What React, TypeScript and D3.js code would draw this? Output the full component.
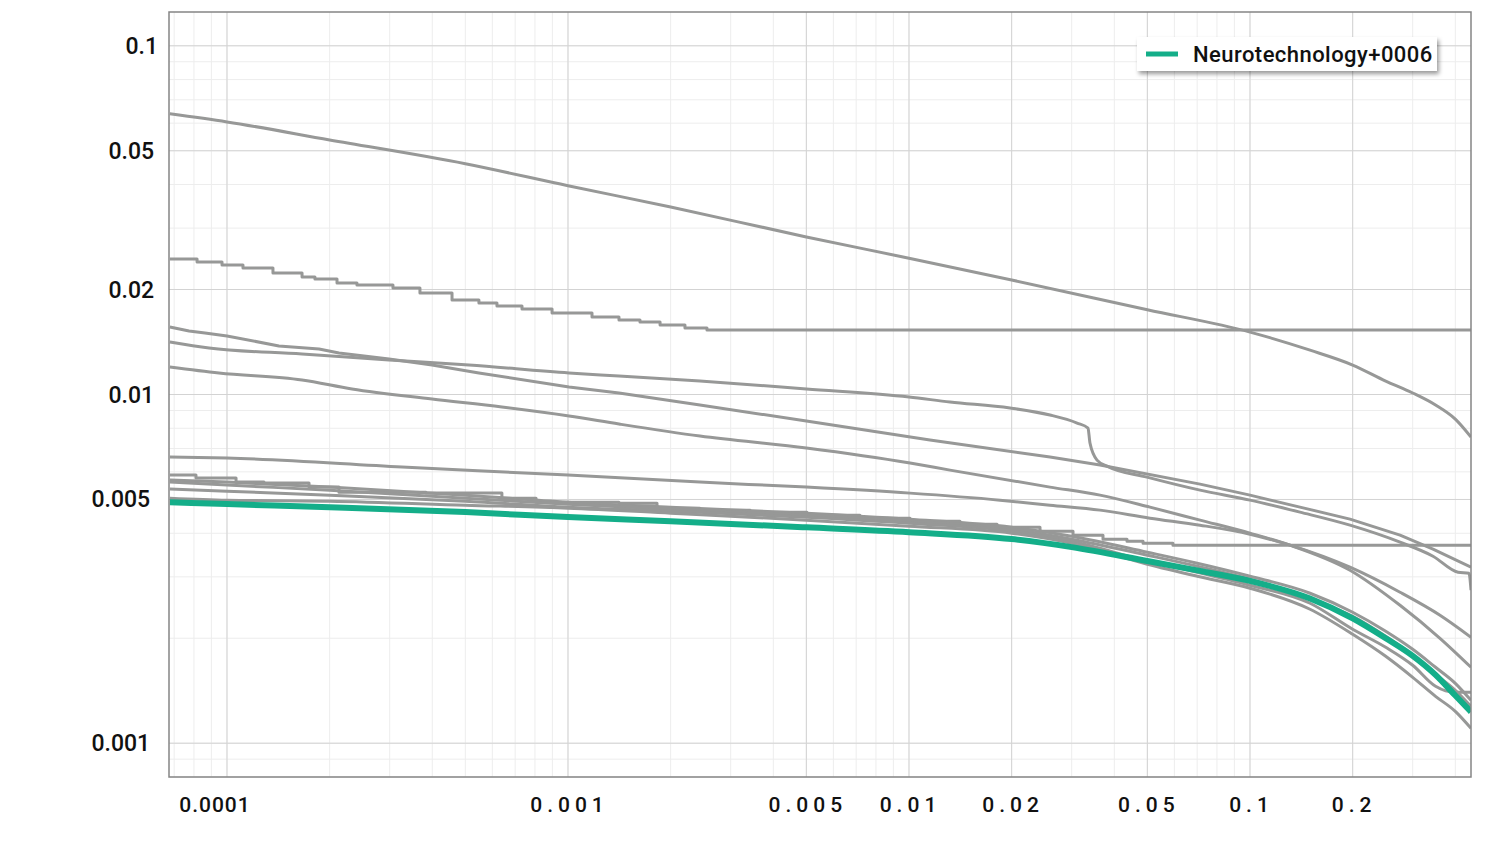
import React from 'react';
import * as d3 from 'd3';

const W = 1505;
const H = 860;
const M = { left: 169, right: 1471, top: 12, bottom: 777 };

const X_DOMAIN = [6.76e-5, 0.4447];
const Y_DOMAIN = [0.0008, 0.125];
const X_TICKS = [0.0001, 0.001, 0.005, 0.01, 0.02, 0.05, 0.1, 0.2];
const X_TICK_LABELS = ['0.0001', '0.001', '0.005', '0.01', '0.02', '0.05', '0.1', '0.2'];
const Y_TICKS = [0.1, 0.05, 0.02, 0.01, 0.005, 0.001];
const Y_TICK_LABELS = ['0.1', '0.05', '0.02', '0.01', '0.005', '0.001'];
const LEGEND_LABEL = 'Neurotechnology+0006';

const X_COMMON = [6.8e-5, 1e-4, 2e-4, 5e-4, 1e-3, 2e-3, 5e-3, 0.01, 0.02, 0.03, 0.05, 0.07, 0.1, 0.15, 0.2, 0.25, 0.3, 0.35, 0.4, 0.4447];

const GREEN_Y = [0.00491, 0.00485, 0.00475, 0.0046, 0.00445, 0.00433, 0.00416, 0.00403, 0.00385, 0.00365, 0.00333, 0.00313, 0.00292, 0.0026, 0.00228, 0.002, 0.00178, 0.00157, 0.00137, 0.00123];

const G2_Y = [0.005682, 0.005607, 0.005425, 0.005145, 0.004913, 0.004753, 0.004568, 0.004391, 0.004165, 0.003924, 0.00353, 0.003282, 0.003012, 0.002692, 0.002374, 0.002094, 0.001859, 0.001651, 0.001485, 0.001327];
const G5_Y = [0.005607, 0.005497, 0.005318, 0.005044, 0.004848, 0.00469, 0.004508, 0.004333, 0.00411, 0.003847, 0.003461, 0.003218, 0.002953, 0.002587, 0.002312, 0.002026, 0.001787, 0.001576, 0.001418, 0.001275];
const G3_Y = [0.005354, 0.005283, 0.005145, 0.004945, 0.004753, 0.004629, 0.004449, 0.004276, 0.004056, 0.003797, 0.003326, 0.003093, 0.002839, 0.00252, 0.002122, 0.001884, 0.001673, 0.001456, 0.001399, 0.001399];
const G4_Y = [0.005044, 0.004978, 0.004945, 0.004816, 0.004722, 0.004568, 0.004362, 0.004192, 0.004003, 0.003747, 0.003261, 0.003012, 0.002783, 0.002422, 0.002053, 0.001775, 0.001545, 0.001363, 0.001234, 0.001103];

const A_X = [6.8e-5, 1e-4, 2e-4, 5e-4, 1e-3, 2e-3, 5e-3, 0.01, 0.02, 0.05, 0.1, 0.15, 0.2, 0.25, 0.3, 0.35, 0.4, 0.4447];
const A_Y = [0.0638, 0.0605, 0.0537, 0.0459, 0.0397, 0.0345, 0.0283, 0.0246, 0.0213, 0.0175, 0.0151, 0.0134, 0.01215, 0.01093, 0.0101, 0.00933, 0.0085, 0.00755];

const B_X = [6.8e-5, 8.17e-5, 9.67e-5, 1.114e-4, 1.364e-4, 1.66e-4, 1.811e-4, 2.102e-4, 2.405e-4, 3.067e-4, 3.68e-4, 4.57e-4, 5.48e-4, 6.19e-4, 7.33e-4, 8.98e-4, 1.176e-3, 1.411e-3, 1.626e-3, 1.862e-3, 2.203e-3, 2.556e-3, 0.4447];
const B_Y = [0.02448, 0.024, 0.02353, 0.02307, 0.02232, 0.02174, 0.02145, 0.02089, 0.02061, 0.02021, 0.01955, 0.01867, 0.01829, 0.01794, 0.01759, 0.01713, 0.01668, 0.01636, 0.01614, 0.01583, 0.01551, 0.01531, 0.01531];

const C_X = [6.8e-5, 7.74e-5, 8.62e-5, 1e-4, 1.42e-4, 1.862e-4, 2.13e-4, 2.987e-4, 3.993e-4, 5.48e-4, 1.007e-3, 1.411e-3, 2.438e-3, 5.0e-3, 0.01152, 0.02591, 0.03632, 0.07137, 0.1, 0.1401, 0.1964, 0.2754, 0.3441, 0.4447];
const C_Y = [0.015624, 0.015216, 0.015016, 0.014721, 0.013779, 0.013509, 0.013156, 0.012645, 0.012153, 0.011527, 0.010508, 0.0101, 0.009329, 0.008393, 0.007402, 0.006616, 0.006274, 0.005534, 0.005145, 0.004753, 0.004391, 0.00395, 0.003601, 0.003197];

const D_X = [6.8e-5, 8.86e-5, 1.66e-4, 2.987e-4, 5.125e-4, 1.007e-3, 1.411e-3, 2.438e-3, 5.0e-3, 0.01, 0.01319, 0.01978, 0.02591, 0.03111, 0.03349, 0.03394, 0.03559, 0.03807, 0.04987, 0.07137, 0.1, 0.1401, 0.1964, 0.2754, 0.3441, 0.4074, 0.4386, 0.4447];
const D_Y = [0.014149, 0.013598, 0.01307, 0.012562, 0.012153, 0.011527, 0.011301, 0.010933, 0.01037, 0.009836, 0.009516, 0.009146, 0.008732, 0.008283, 0.008014, 0.007257, 0.006485, 0.006233, 0.005795, 0.005318, 0.004978, 0.004599, 0.00422, 0.003772, 0.003438, 0.003093, 0.003072, 0.002746];

const E_X = [6.8e-5, 9.47e-5, 1.66e-4, 2.326e-4, 3.993e-4, 6.4e-4, 1.007e-3, 1.411e-3, 2.438e-3, 5.0e-3, 0.01007, 0.01319, 0.02591, 0.03632, 0.05089, 0.07137, 0.1, 0.131, 0.1964, 0.2754, 0.3607, 0.4447];
const E_Y = [0.011994, 0.011527, 0.011006, 0.01037, 0.009707, 0.009207, 0.008675, 0.008228, 0.0076, 0.007021, 0.006358, 0.00607, 0.005425, 0.005145, 0.004753, 0.004362, 0.004003, 0.003698, 0.003134, 0.002486, 0.001999, 0.001651];

const F_X = [6.8e-5, 1e-4, 3.26e-4, 1e-3, 2.438e-3, 5e-3, 0.01007, 0.01849, 0.02591, 0.03632, 0.05089, 0.07137, 0.1, 0.131, 0.1964, 0.2754, 0.3607, 0.4447];
const F_Y = [0.006616, 0.006572, 0.006192, 0.005873, 0.005607, 0.005425, 0.005214, 0.004978, 0.004816, 0.00466, 0.00442, 0.00422, 0.003976, 0.003698, 0.003197, 0.00271, 0.002328, 0.002013];

const G1_X = [6.8e-5, 8.11e-5, 1.063e-4, 1.284e-4, 1.74e-4, 2.13e-4, 2.848e-4, 3.834e-4, 6.4e-4, 8.06e-4, 1.411e-3, 1.824e-3, 2.438e-3, 3.418e-3, 5.02e-3, 7.18e-3, 0.01007, 0.01411, 0.01812, 0.02422, 0.03027, 0.03706, 0.04358, 0.04857, 0.05943, 0.4447];
const G1_Y = [0.005873, 0.005757, 0.005607, 0.00557, 0.005425, 0.005248, 0.005248, 0.005214, 0.005044, 0.004913, 0.00488, 0.004722, 0.00466, 0.004599, 0.004508, 0.00442, 0.004333, 0.004248, 0.004165, 0.004056, 0.00395, 0.003847, 0.003797, 0.003747, 0.003698, 0.003698];

const GRAY = '#979897';
const GREEN = '#14ae89';

type Series = { xs: number[]; ys: number[]; step?: boolean; linear?: boolean };

const GRAY_SERIES: Series[] = [
  { xs: A_X, ys: A_Y },
  { xs: B_X, ys: B_Y, step: true },
  { xs: C_X, ys: C_Y, linear: true },
  { xs: D_X, ys: D_Y },
  { xs: E_X, ys: E_Y },
  { xs: F_X, ys: F_Y },
  { xs: G1_X, ys: G1_Y, step: true },
  { xs: X_COMMON, ys: G2_Y },
  { xs: X_COMMON, ys: G5_Y },
  { xs: X_COMMON, ys: G3_Y },
  { xs: X_COMMON, ys: G4_Y },
];

export default function App() {
  const x = d3.scaleLog().domain(X_DOMAIN).range([M.left, M.right]);
  const y = d3.scaleLog().domain(Y_DOMAIN).range([M.bottom, M.top]);

  const minorX: number[] = [];
  for (let d = -5; d <= 0; d++) {
    for (let m = 1; m <= 9; m++) {
      const v = m * Math.pow(10, d);
      if (v >= X_DOMAIN[0] && v <= X_DOMAIN[1]) minorX.push(v);
    }
  }
  const minorY: number[] = [];
  for (let d = -4; d <= 0; d++) {
    for (let m = 1; m <= 9; m++) {
      const v = m * Math.pow(10, d);
      if (v >= Y_DOMAIN[0] && v <= Y_DOMAIN[1]) minorY.push(v);
    }
  }

  const pathFor = (s: Series) => {
    const pts = s.xs.map((xv, i) => [xv, s.ys[i]] as [number, number]);
    const gen = d3
      .line<[number, number]>()
      .x((d) => x(d[0]))
      .y((d) => y(d[1]))
      .curve(s.step ? d3.curveStepAfter : s.linear ? d3.curveLinear : d3.curveMonotoneX);
    return gen(pts) || '';
  };

  const greenPath = pathFor({ xs: X_COMMON, ys: GREEN_Y });

  const font = 'Roboto, "Noto Sans", sans-serif';

  return (
    <svg
      width={W}
      height={H}
      style={{ position: 'absolute', left: 0, top: 0, display: 'block', background: '#fff' }}
    >
      <defs>
        <clipPath id="plotclip">
          <rect x={M.left} y={M.top} width={M.right - M.left} height={M.bottom - M.top} />
        </clipPath>
        <filter id="legshadow" x="-10%" y="-40%" width="130%" height="200%">
          <feDropShadow dx="2" dy="3" stdDeviation="2" floodColor="#000" floodOpacity="0.4" />
        </filter>
      </defs>
      <rect x={0} y={0} width={W} height={H} fill="#fff" />
      <g>
        {minorX.map((v, i) => (
          <line key={'mx' + i} x1={x(v)} x2={x(v)} y1={M.top} y2={M.bottom} stroke="#ededed" strokeWidth={1} />
        ))}
        {minorY.map((v, i) => (
          <line key={'my' + i} x1={M.left} x2={M.right} y1={y(v)} y2={y(v)} stroke="#ededed" strokeWidth={1} />
        ))}
      </g>
      <g>
        {X_TICKS.map((v, i) => (
          <line key={'Mx' + i} x1={x(v)} x2={x(v)} y1={M.top} y2={M.bottom} stroke="#d3d3d3" strokeWidth={1} />
        ))}
        {Y_TICKS.map((v, i) => (
          <line key={'My' + i} x1={M.left} x2={M.right} y1={y(v)} y2={y(v)} stroke="#d3d3d3" strokeWidth={1} />
        ))}
      </g>
      <g clipPath="url(#plotclip)" fill="none" strokeLinejoin="round">
        {GRAY_SERIES.map((s, i) => (
          <path key={'g' + i} d={pathFor(s)} stroke={GRAY} strokeWidth={3} />
        ))}
        <path d={greenPath} stroke={GREEN} strokeWidth={6} />
      </g>
      <rect
        x={M.left}
        y={M.top}
        width={M.right - M.left}
        height={M.bottom - M.top}
        fill="none"
        stroke="#858585"
        strokeWidth={1.5}
      />
      <g fontFamily={font} fontSize={23} fontWeight={500} fill="#111">
        {Y_TICKS.map((v, i) => (
          <text key={'yl' + i} x={178 - 17 * Y_TICK_LABELS[i].length - 1.5} y={y(v) + 8} textAnchor="start">
            {Y_TICK_LABELS[i]}
          </text>
        ))}
      </g>
      <g fontFamily={font} fontSize={21} fontWeight={500} fill="#111">
        {X_TICKS.map((v, i) => (
          <text
            key={'xl' + i}
            x={x(v) + (i === 0 ? -12 : 1.5)}
            y={812}
            textAnchor="middle"
            letterSpacing={i === 0 ? 1 : 5}
          >
            {X_TICK_LABELS[i]}
          </text>
        ))}
      </g>
      <g>
        <rect x={1137} y={37} width={300} height={34} fill="#fff" filter="url(#legshadow)" />
        <line x1={1146} x2={1178} y1={54} y2={54} stroke={GREEN} strokeWidth={5} />
        <text x={1193} y={61.5} fontFamily={font} fontSize={22} fontWeight={500} letterSpacing={0.45} fill="#111">
          {LEGEND_LABEL}
        </text>
      </g>
    </svg>
  );
}
